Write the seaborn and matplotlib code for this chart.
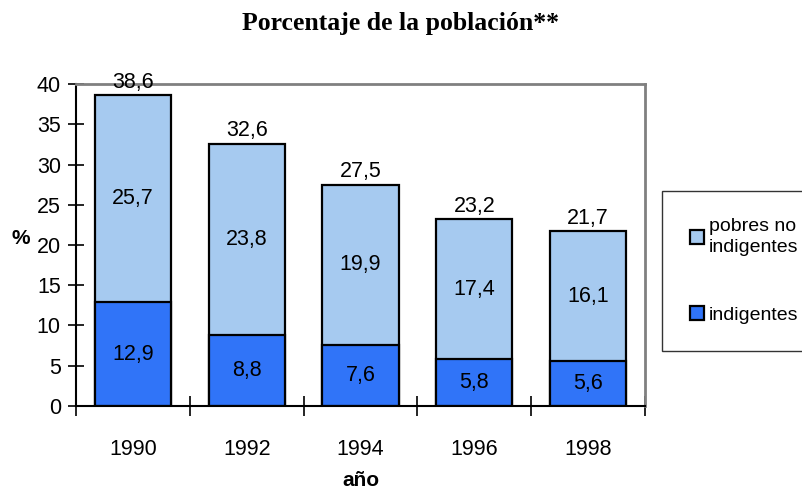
import matplotlib
matplotlib.use("Agg")
import matplotlib.pyplot as plt
import seaborn as sns
import pandas as pd
from matplotlib.ticker import FixedLocator
from matplotlib.patches import Patch

years = ["1990", "1992", "1994", "1996", "1998"]
indigentes = [12.9, 8.8, 7.6, 5.8, 5.6]
pobres_no_indigentes = [25.7, 23.8, 19.9, 17.4, 16.1]
totales = [38.6, 32.6, 27.5, 23.2, 21.7]

light = "#A6CAF0"
dark = "#3074F8"

sns.set_style("white")
plt.rcParams['font.family'] = ['Liberation Sans', 'DejaVu Sans']
plt.rcParams.update({"text.color": "black", "axes.labelcolor": "black",
                     "xtick.color": "black", "ytick.color": "black"})

df = pd.DataFrame({"year": years, "ind": indigentes, "pni": pobres_no_indigentes, "tot": totales})

fig = plt.figure(figsize=(8.02, 4.95), dpi=100)
ax = fig.add_axes([0.0948, 0.1798, 0.7095, 0.6505])

sns.barplot(data=df, x="year", y="tot", color=light, width=0.67, edgecolor="black",
            linewidth=1.6, saturation=1, ax=ax)
sns.barplot(data=df, x="year", y="ind", color=dark, width=0.67, edgecolor="black",
            linewidth=1.6, saturation=1, ax=ax)

fmt = lambda v: f"{v:.1f}".replace(".", ",")
fs = 15.5
for i, (a, b, t) in enumerate(zip(indigentes, pobres_no_indigentes, totales)):
    ax.text(i, a / 2, fmt(a), ha="center", va="center", fontsize=fs)
    ax.text(i, a + b / 2, fmt(b), ha="center", va="center", fontsize=fs)
    ax.text(i, t + 0.3, fmt(t), ha="center", va="bottom", fontsize=fs)

ax.set_ylim(0, 40)
ax.set_xlim(-0.5, 4.5)
ax.set_yticks(range(0, 41, 5))
ax.tick_params(axis="y", direction="inout", length=12, width=1.2,
               labelsize=fs, pad=5, left=True)
ax.tick_params(axis="x", which="major", length=0, labelsize=fs, pad=24)
ax.xaxis.set_minor_locator(FixedLocator([-0.5, 0.5, 1.5, 2.5, 3.5, 4.5]))
ax.tick_params(axis="x", which="minor", direction="inout", length=14, width=1.2,
               bottom=True)

for s in ["left", "bottom"]:
    ax.spines[s].set_color("black")
    ax.spines[s].set_linewidth(1.5)
for s in ["top", "right"]:
    ax.spines[s].set_color("#808080")
    ax.spines[s].set_linewidth(2)
    ax.spines[s].set_visible(True)

ax.set_xlabel("año", fontsize=15, fontweight="bold", labelpad=8)
ax.set_ylabel("%", fontsize=15, fontweight="bold", rotation=0, va="center")
ax.yaxis.set_label_coords(-0.098, 0.52)

fig.suptitle("Porcentaje de la población**", fontsize=18.5, fontweight="bold",
             family=["Liberation Serif", "DejaVu Serif"], y=0.975)

handles = [Patch(facecolor=light, edgecolor="black", linewidth=1.6),
           Patch(facecolor=dark, edgecolor="black", linewidth=1.6)]
leg = fig.legend(handles, ["pobres no\nindigentes", "indigentes"],
                 loc="upper left", bbox_to_anchor=(0.826, 0.614),
                 fontsize=14, frameon=True, fancybox=False, handlelength=0.75,
                 handleheight=0.75, handletextpad=0.25, labelspacing=2.6,
                 borderpad=1.4, borderaxespad=0)
for t in leg.get_texts():
    t.set_linespacing(1.25)
leg.get_frame().set_edgecolor("black")
leg.get_frame().set_linewidth(1.0)

fig.savefig("out.png", dpi=100)
